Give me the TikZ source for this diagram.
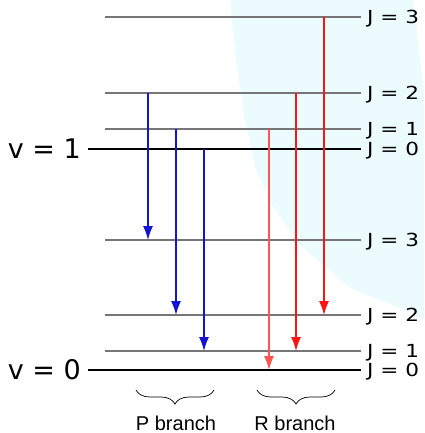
\documentclass[tikz,border=0pt]{standalone}
\usepackage{fontspec}
\setmainfont{DejaVu Sans}
\newfontfamily\arialfont{Liberation Sans}
\usetikzlibrary{arrows.meta,decorations.pathreplacing}
\definecolor{levelgray}{RGB}{118,118,118}
\definecolor{pblue}{RGB}{20,20,210}
\definecolor{rred}{RGB}{255,20,20}
\definecolor{rlight}{RGB}{255,85,85}
\definecolor{cyanbg}{RGB}{236,252,254}
\begin{document}
\begin{tikzpicture}[x=1pt, y=-1pt, >={Latex[length=14pt,width=10pt]},
    level/.style={line width=1.6pt, levelgray},
    ground/.style={line width=1.4pt, black},
    jlabel/.style={anchor=west, inner sep=0pt, xshift=6pt, yshift=-2pt, xscale=1.2, font=\fontsize{18}{18}\selectfont},
    vlabel/.style={anchor=east, inner sep=0pt, xshift=-7pt, font=\fontsize{27}{27}\selectfont},
    trans/.style={line width=1.3pt, ->},
    brlabel/.style={anchor=base, inner sep=0pt, font=\arialfont\fontsize{20}{20}\selectfont}]
  \useasboundingbox (0,0) rectangle (424,433);
  % faint background patch
  \fill[cyanbg] (230,0) -- (413,0) -- (424,90) -- (424,320) -- (405,310) -- (350,288)
    -- (300,245) -- (272,205) -- (256,170) -- (245,120) -- (236,60) -- cycle;
  % rotational levels
  \foreach \y/\j/\n in {17/3/a3, 93/2/a2, 129/1/a1, 240/3/b3, 315/2/b2, 351/1/b1} {
    \draw[level] (105,\y) coordinate (\n w) -- (361,\y) coordinate (\n e);
    \node[jlabel] (\n t) at (\n e) {J = \j};
  }
  \draw[ground] (88,149) coordinate (a0w) -- (361,149) coordinate (a0e);
  \node[jlabel] (a0t) at (a0e) {J = 0};
  \node[vlabel] (v1) at (a0w) {v = 1};
  \draw[ground] (88,370) coordinate (b0w) -- (361,370) coordinate (b0e);
  \node[jlabel] (b0t) at (b0e) {J = 0};
  \node[vlabel] (v0) at (b0w) {v = 0};
  % transitions
  \foreach \x/\c in {148/p1, 176/p2, 204/p3, 269/r1, 296/r2, 324/r3}
    \coordinate (\c) at (\x,0);
  \draw[trans, pblue] (a2w -| p1) -- (b3w -| p1);
  \draw[trans, pblue] (a1w -| p2) -- (b2w -| p2);
  \draw[trans, pblue] (a0w -| p3) -- (b1w -| p3);
  \draw[trans, rlight] (a1w -| r1) -- (b0w -| r1);
  \draw[trans, rred] (a2w -| r2) -- (b1w -| r2);
  \draw[trans, rred] (a3w -| r3) -- (b2w -| r3);
  % branches
  \draw[decorate, decoration={brace, mirror, amplitude=14pt}, line width=0.7pt]
    (136,390) coordinate (pbl) -- (214,390) coordinate (pbr);
  \draw[decorate, decoration={brace, mirror, amplitude=14pt}, line width=0.7pt]
    (257,390) coordinate (rbl) -- (335,390) coordinate (rbr);
  \node[brlabel] (pname) at (176,430) {P branch};
  \node[brlabel] (rname) at (295,430) {R branch};
\end{tikzpicture}
\end{document}
